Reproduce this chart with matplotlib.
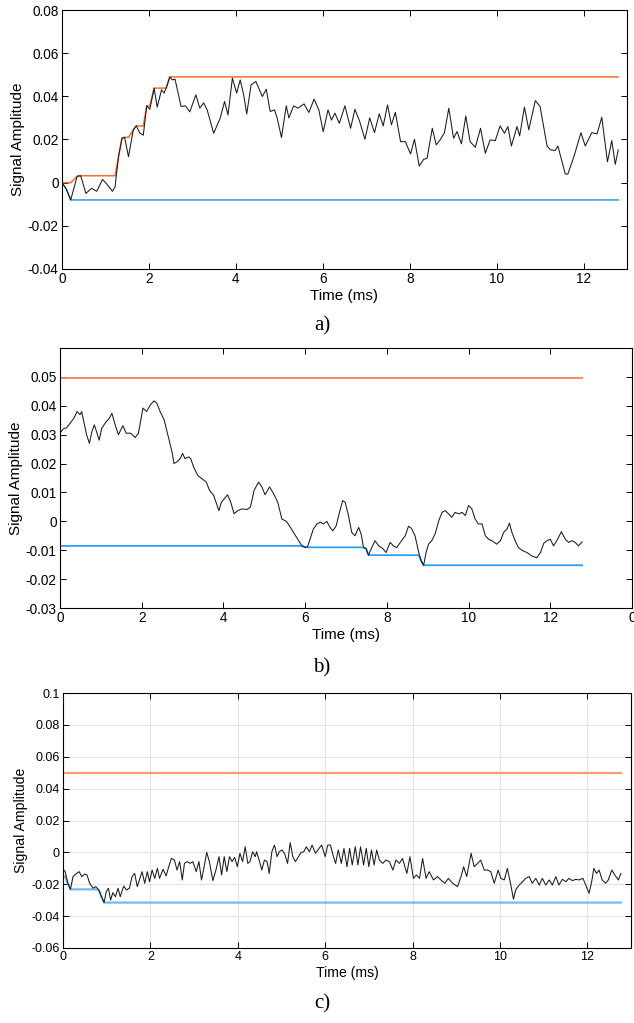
import numpy as np
import matplotlib
matplotlib.use("Agg")
import matplotlib.pyplot as plt

plt.rcParams['font.family'] = ['Liberation Sans', 'DejaVu Sans']
plt.rcParams['axes.unicode_minus'] = False

# ---- panel a) ----
t_a = [0, 0.1, 0.2, 0.35, 0.43, 0.55, 0.68, 0.8, 0.93, 1.03,
       1.16, 1.22, 1.3, 1.38, 1.44, 1.53, 1.64, 1.71, 1.79, 1.87,
       1.95, 2.02, 2.12, 2.19, 2.29, 2.35, 2.4, 2.48, 2.54, 2.6,
       2.74, 2.84, 2.94, 3.08, 3.17, 3.26, 3.34, 3.49, 3.64, 3.74,
       3.82, 3.92, 4.02, 4.1, 4.18, 4.25, 4.35, 4.46, 4.61, 4.7,
       4.79, 4.89, 4.95, 5.05, 5.16, 5.22, 5.33, 5.43, 5.57, 5.68,
       5.8, 5.91, 6.01, 6.12, 6.2, 6.28, 6.38, 6.51, 6.64, 6.74,
       6.85, 6.97, 7.08, 7.19, 7.3, 7.39, 7.49, 7.58, 7.67, 7.79,
       7.9, 8.02, 8.11, 8.22, 8.32, 8.4, 8.52, 8.61, 8.7, 8.8,
       8.9, 9.01, 9.09, 9.19, 9.29, 9.39, 9.51, 9.63, 9.74, 9.85,
       9.97, 10.08, 10.18, 10.26, 10.34, 10.47, 10.53, 10.64, 10.74, 10.89,
       11.0, 11.16, 11.24, 11.35, 11.41, 11.58, 11.64, 11.79, 11.94, 12.04,
       12.19, 12.31, 12.42, 12.55, 12.65, 12.73, 12.8]
sig_a = [0.0, -0.003, -0.008, 0.003, 0.0032, -0.005, -0.0026, -0.004, 0.0015, -0.0006,
         -0.004, -0.002, 0.012, 0.0206, 0.021, 0.012, 0.0245, 0.0263, 0.023, 0.022,
         0.0356, 0.034, 0.0438, 0.035, 0.043, 0.0415, 0.044, 0.049, 0.0476, 0.048,
         0.0353, 0.0356, 0.0328, 0.0407, 0.0345, 0.037, 0.0337, 0.0229, 0.0299, 0.0376,
         0.0314, 0.0484, 0.0415, 0.0476, 0.0407, 0.0318, 0.0453, 0.0469, 0.0399, 0.0433,
         0.033, 0.0337, 0.03, 0.0209, 0.0356, 0.03, 0.0356, 0.0345, 0.0365, 0.0325,
         0.0387, 0.0337, 0.0236, 0.0337, 0.029, 0.0322, 0.0275, 0.0356, 0.0252, 0.034,
         0.0283, 0.0201, 0.03, 0.0232, 0.0319, 0.0263, 0.036, 0.0268, 0.0326, 0.019,
         0.019, 0.0133, 0.0201, 0.0077, 0.0108, 0.0113, 0.0252, 0.0175, 0.0198, 0.0232,
         0.0345, 0.0206, 0.0237, 0.018, 0.0309, 0.019, 0.0164, 0.0252, 0.0136, 0.0198,
         0.0195, 0.0263, 0.0229, 0.026, 0.017, 0.026, 0.0217, 0.035, 0.0245, 0.038,
         0.0353, 0.017, 0.0152, 0.0149, 0.017, 0.004, 0.004, 0.0128, 0.0232, 0.017,
         0.0232, 0.0226, 0.0303, 0.0097, 0.0195, 0.0085, 0.0152]
start_a = (0.0, 0.0)  # (max, min) of the envelopes before the first sample

# ---- panel b) ----
t_b = [0.0, 0.08, 0.16, 0.25, 0.34, 0.42, 0.49, 0.53, 0.59, 0.65,
       0.72, 0.78, 0.84, 0.9, 0.96, 1.02, 1.13, 1.21, 1.27, 1.35,
       1.43, 1.54, 1.62, 1.73, 1.84, 1.92, 2.03, 2.12, 2.21, 2.3,
       2.37, 2.45, 2.55, 2.66, 2.74, 2.79, 2.88, 2.94, 3.0, 3.06,
       3.15, 3.2, 3.27, 3.37, 3.47, 3.58, 3.66, 3.76, 3.82, 3.89,
       3.95, 4.02, 4.1, 4.18, 4.26, 4.35, 4.45, 4.58, 4.66, 4.75,
       4.86, 4.94, 5.02, 5.13, 5.23, 5.33, 5.43, 5.54, 5.64, 5.74,
       5.84, 5.92, 6.0, 6.06, 6.12, 6.2, 6.29, 6.37, 6.45, 6.53,
       6.61, 6.68, 6.76, 6.84, 6.92, 6.98, 7.06, 7.14, 7.22, 7.31,
       7.37, 7.43, 7.49, 7.55, 7.63, 7.71, 7.8, 7.9, 7.98, 8.08,
       8.16, 8.24, 8.33, 8.45, 8.53, 8.6, 8.69, 8.78, 8.84, 8.9,
       8.96, 9.02, 9.1, 9.18, 9.27, 9.35, 9.43, 9.51, 9.59, 9.67,
       9.76, 9.84, 9.92, 10.0, 10.08, 10.16, 10.24, 10.33, 10.41, 10.49,
       10.57, 10.69, 10.78, 10.86, 10.94, 11.0, 11.06, 11.14, 11.22, 11.33,
       11.43, 11.55, 11.67, 11.76, 11.84, 11.92, 12.0, 12.08, 12.18, 12.27,
       12.37, 12.45, 12.53, 12.61, 12.69, 12.78]
sig_b = [0.0305, 0.032, 0.0324, 0.034, 0.0357, 0.038, 0.0369, 0.038, 0.034, 0.030,
         0.027, 0.031, 0.0334, 0.0308, 0.0281, 0.0322, 0.0345, 0.0357, 0.0374, 0.0334,
         0.030, 0.0331, 0.0305, 0.0305, 0.029, 0.0305, 0.0392, 0.038, 0.0403, 0.0417,
         0.0409, 0.038, 0.0351, 0.0287, 0.0241, 0.020, 0.0208, 0.0217, 0.0235, 0.0217,
         0.0223, 0.0217, 0.0188, 0.0159, 0.0148, 0.0136, 0.0107, 0.009, 0.0066, 0.0037,
         0.0066, 0.0078, 0.0092, 0.0066, 0.0026, 0.0037, 0.0043, 0.0041, 0.0049, 0.0107,
         0.0136, 0.0119, 0.0092, 0.0119, 0.0095, 0.0066, 0.0008, 0.0, -0.0021, -0.0044,
         -0.0067, -0.0085, -0.009, -0.0087, -0.0062, -0.0027, -0.0009, -0.0003, -0.0009, 0.0,
         -0.0021, -0.0033, -0.0015, 0.0031, 0.0072, 0.0066, 0.002, -0.0038, -0.005, -0.0021,
         -0.0044, -0.0091, -0.0094, -0.0117, -0.0091, -0.0067, -0.0085, -0.0094, -0.0108, -0.0073,
         -0.0085, -0.0091, -0.0073, -0.005, -0.0017, -0.0024, -0.005, -0.0108, -0.0137, -0.0152,
         -0.0108, -0.0079, -0.0067, -0.0044, 0.0002, 0.0031, 0.0037, 0.0026, 0.0014, 0.0031,
         0.0026, 0.0031, 0.002, 0.0055, 0.0043, 0.0008, -0.0009, -0.0009, -0.005, -0.0062,
         -0.0067, -0.0079, -0.0067, -0.0038, -0.0027, -0.0006, -0.0038, -0.0067, -0.0091, -0.0102,
         -0.0108, -0.012, -0.0126, -0.0108, -0.0076, -0.0067, -0.0062, -0.0085, -0.0062, -0.0036,
         -0.0062, -0.0073, -0.0067, -0.0073, -0.0085, -0.0071]
start_b = (0.0495, -0.0085)

# ---- panel c) ----
t_c = [0.0, 0.05, 0.11, 0.17, 0.23, 0.29, 0.37, 0.43, 0.5, 0.55,
       0.61, 0.69, 0.75, 0.82, 0.88, 0.94, 0.99, 1.04, 1.09, 1.14,
       1.2, 1.26, 1.31, 1.39, 1.45, 1.52, 1.58, 1.64, 1.7, 1.75,
       1.81, 1.87, 1.93, 1.98, 2.04, 2.1, 2.16, 2.21, 2.29, 2.36,
       2.42, 2.48, 2.55, 2.61, 2.67, 2.73, 2.78, 2.84, 2.91, 2.97,
       3.05, 3.11, 3.17, 3.23, 3.29, 3.35, 3.43, 3.5, 3.57, 3.63,
       3.69, 3.75, 3.81, 3.87, 3.93, 3.99, 4.05, 4.11, 4.17, 4.23,
       4.28, 4.34, 4.4, 4.43, 4.5, 4.55, 4.61, 4.67, 4.72, 4.78,
       4.84, 4.9, 4.95, 5.01, 5.07, 5.14, 5.2, 5.26, 5.32, 5.39,
       5.45, 5.51, 5.57, 5.64, 5.7, 5.78, 5.86, 5.92, 6.0, 6.06,
       6.12, 6.18, 6.24, 6.3, 6.37, 6.43, 6.5, 6.56, 6.62, 6.69,
       6.75, 6.81, 6.88, 6.94, 7.0, 7.06, 7.12, 7.18, 7.24, 7.32,
       7.39, 7.47, 7.55, 7.62, 7.7, 7.77, 7.87, 7.94, 8.02, 8.09,
       8.16, 8.23, 8.31, 8.38, 8.48, 8.57, 8.65, 8.74, 8.82, 8.92,
       9.03, 9.11, 9.17, 9.24, 9.34, 9.41, 9.49, 9.56, 9.64, 9.72,
       9.79, 9.87, 9.96, 10.02, 10.1, 10.17, 10.25, 10.31, 10.36, 10.44,
       10.52, 10.59, 10.67, 10.74, 10.82, 10.9, 10.97, 11.05, 11.13, 11.2,
       11.28, 11.35, 11.43, 11.51, 11.58, 11.66, 11.74, 11.81, 11.9, 11.98,
       12.04, 12.1, 12.15, 12.21, 12.27, 12.34, 12.42, 12.48, 12.56, 12.63,
       12.71, 12.77]
sig_c = [-0.0104, -0.0121, -0.0194, -0.0232, -0.0152, -0.0136, -0.0121, -0.0152, -0.0136, -0.0142,
         -0.0194, -0.0225, -0.0215, -0.0236, -0.0278, -0.0315, -0.0246, -0.0225, -0.0299, -0.0253,
         -0.0278, -0.0225, -0.0278, -0.0211, -0.0236, -0.0225, -0.0152, -0.0132, -0.0215, -0.0173,
         -0.0121, -0.0194, -0.0121, -0.0184, -0.0111, -0.0163, -0.010, -0.0163, -0.0106, -0.0148,
         -0.009, -0.0038, -0.0048, -0.0111, -0.0058, -0.0173, -0.0069, -0.0058, -0.0069, -0.0058,
         -0.0121, -0.0058, -0.0173, -0.009, 0.0, -0.0058, -0.0177, -0.0111, -0.0027, -0.0142,
         -0.0027, -0.0121, -0.0027, -0.0058, -0.0031, -0.009, -0.0006, -0.0058, 0.0035, -0.0069,
         -0.0058, 0.0004, -0.0027, 0.0004, -0.0058, -0.0111, -0.0048, -0.0058, -0.0132, 0.0004,
         0.0046, -0.0027, 0.0004, 0.0015, -0.0006, -0.0069, 0.0061, -0.0027, -0.0058, -0.0027,
         0.0, 0.0004, 0.0035, 0.0004, 0.0046, -0.0006, 0.0025, 0.0046, -0.0027, 0.0046,
         0.0046, -0.0017, -0.0069, 0.0015, -0.0069, 0.0025, -0.009, 0.0025, -0.0079, 0.0035,
         -0.0079, 0.0035, -0.0079, 0.0025, -0.009, 0.0015, -0.0079, 0.0015, -0.0048, -0.0069,
         -0.0048, -0.0058, -0.0111, -0.0048, -0.0069, -0.0038, -0.0132, -0.0027, -0.0163, -0.0142,
         -0.0163, -0.0038, -0.0163, -0.0121, -0.0173, -0.0152, -0.0173, -0.0194, -0.0163, -0.0194,
         -0.0215, -0.0152, -0.009, -0.0152, -0.0006, -0.009, -0.0069, -0.0048, -0.0111, -0.0111,
         -0.0121, -0.0194, -0.0111, -0.0163, -0.0173, -0.010, -0.0205, -0.0294, -0.0236, -0.0205,
         -0.0184, -0.0163, -0.0152, -0.0194, -0.0163, -0.0205, -0.0163, -0.0205, -0.0173, -0.0205,
         -0.0152, -0.0205, -0.0169, -0.0184, -0.0163, -0.0177, -0.0169, -0.0173, -0.0163, -0.0215,
         -0.0257, -0.0184, -0.010, -0.0132, -0.0111, -0.0173, -0.0194, -0.0173, -0.0111, -0.0142,
         -0.0173, -0.0132]
start_c = (0.0499, -0.0152)

W, H = 634, 1023
fig = plt.figure(figsize=(W / 100, H / 100), dpi=100)


def add_axes_px(left, top, right, bottom):
    return fig.add_axes([left / W, 1 - bottom / H, (right - left) / W, (bottom - top) / H])


def draw_panel(ax, t, sig, start, xlim, ylim, yticks, xticks, xlabels,
               c_max, c_min, lw_env, grid=False, fs=9.5):
    t = np.asarray(t)
    sig = np.asarray(sig)
    # running peak envelopes, carried over from the previous segment
    env_max = np.maximum.accumulate(np.r_[start[0], sig])[1:]
    env_min = np.minimum.accumulate(np.r_[start[1], sig])[1:]
    ax.plot(t, env_max, color=c_max, lw=lw_env, zorder=2)
    ax.plot(t, env_min, color=c_min, lw=lw_env, zorder=2)
    ax.plot(t, sig, color='#1a1a1a', lw=0.75, zorder=3)
    ax.set_xlim(*xlim)
    ax.set_ylim(*ylim)
    ax.set_xticks(xticks)
    ax.set_xticklabels(xlabels)
    ax.set_yticks(yticks)
    ax.set_yticklabels([f"{v:g}" for v in yticks])
    ax.tick_params(direction='in', length=4, width=0.7, top=True, right=True,
                   labelsize=fs, pad=2.5, colors='black')
    for s in ax.spines.values():
        s.set_linewidth(0.8)
    if grid:
        ax.grid(True, color='#e3e3e3', lw=0.8, zorder=0)
        ax.set_axisbelow(True)
    ax.set_xlabel('Time (ms)', fontsize=fs * 1.12, labelpad=1.5)
    ax.set_ylabel('Signal Amplitude', fontsize=fs * 1.12, labelpad=2)


ax_a = add_axes_px(62, 10, 627, 269)
draw_panel(ax_a, t_a, sig_a, start_a, (0, 13), (-0.04, 0.08),
           [-0.04, -0.02, 0, 0.02, 0.04, 0.06, 0.08],
           list(range(0, 13, 2)), [str(v) for v in range(0, 13, 2)],
           '#ff6a33', '#3a96e0', 1.1, fs=9.8)

ax_b = add_axes_px(60, 348, 632, 608)
draw_panel(ax_b, t_b, sig_b, start_b, (0, 14), (-0.03, 0.06),
           [-0.03, -0.02, -0.01, 0, 0.01, 0.02, 0.03, 0.04, 0.05],
           list(range(0, 15, 2)), [str(v) for v in range(0, 13, 2)] + ['0'],
           '#ff7f50', '#2a9ff5', 1.3, fs=9.8)

ax_c = add_axes_px(63, 693, 631, 948)
draw_panel(ax_c, t_c, sig_c, start_c, (0, 13), (-0.06, 0.1),
           [-0.06, -0.04, -0.02, 0, 0.02, 0.04, 0.06, 0.08, 0.1],
           list(range(0, 13, 2)), [str(v) for v in range(0, 13, 2)],
           '#ff9a74', '#72bbf0', 1.6, grid=True, fs=9.0)

for label, y in [('a)', 326), ('b)', 668), ('c)', 1004)]:
    fig.text(322 / W, 1 - y / H, label, family='Liberation Serif', fontsize=15,
             ha='center', va='center')

fig.savefig('out.png', dpi=100)
